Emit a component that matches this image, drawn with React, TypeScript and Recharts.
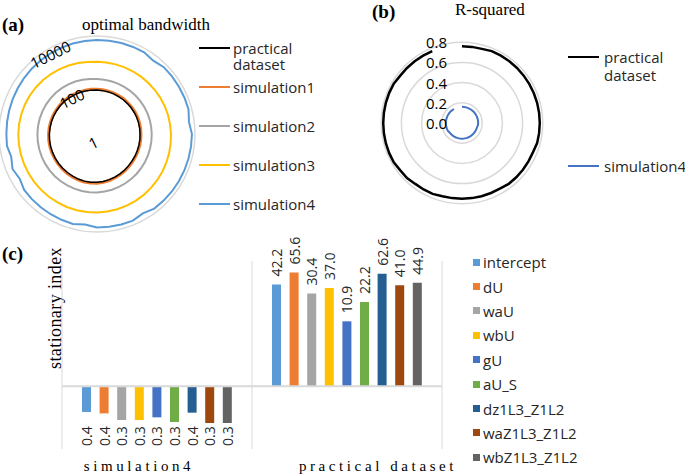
import React from "react";
import {
  Bar,
  BarChart,
  CartesianGrid,
  LabelList,
  Legend,
  PolarAngleAxis,
  PolarGrid,
  PolarRadiusAxis,
  Radar,
  RadarChart,
  ReferenceLine,
  XAxis,
  YAxis,
} from "recharts";

const SANS = '"Open Sans", "Noto Sans", sans-serif';
const SERIF = '"Liberation Serif", "DejaVu Serif", serif';
const GRID = "#d9d9d9";
const INK = "#262626";

// (a) optimal bandwidth, 48 directions clockwise from the top
const bwPractical = [
  62, 61, 60, 59, 58, 58, 57, 57, 57, 57, 57, 57,
  57, 58, 59, 60, 62, 64, 67, 71, 75, 80, 85, 90,
  94, 97, 98, 98, 97, 96, 95, 94, 93, 92, 91, 90,
  88, 86, 84, 82, 80, 78, 76, 73, 70, 68, 66, 64,
];
const bwSim1 = [
  67, 66, 65, 64, 63, 63, 62, 62, 62, 62, 62, 62,
  62, 63, 64, 65, 67, 69, 72, 77, 81, 86, 92, 97,
  102, 105, 106, 106, 105, 104, 103, 102, 100, 99, 98, 97,
  95, 93, 91, 89, 86, 84, 82, 79, 76, 73, 71, 69,
];
const bwSim2 = [
  175, 172, 170, 168, 167, 166, 166, 166, 167, 168, 169, 170,
  171, 173, 176, 180, 185, 190, 196, 203, 210, 218, 226, 234,
  242, 249, 255, 260, 265, 269, 272, 274, 275, 275, 274, 273,
  271, 268, 264, 259, 253, 246, 238, 229, 219, 208, 196, 185,
];
const bwSim3 = [
  890, 880, 875, 875, 880, 890, 905, 925, 950, 975, 1000, 1020,
  1045, 1075, 1110, 1150, 1195, 1245, 1300, 1355, 1410, 1460, 1510, 1560,
  1600, 1630, 1655, 1670, 1680, 1685, 1685, 1680, 1670, 1660, 1650, 1640,
  1630, 1600, 1560, 1510, 1450, 1380, 1300, 1220, 1140, 1060, 990, 930,
];
const bwSim4 = [
  6870, 6920, 6970, 7020, 7080, 5900, 7180, 7230, 7280, 7330, 7380, 6100,
  7500, 7450, 7370, 7280, 7190, 7100, 7000, 6900, 5500, 6750, 6680, 6600,
  6500, 5300, 6300, 6180, 6050, 5900, 5750, 5600, 4400, 5400, 4200, 5100,
  5000, 5050, 5150, 5300, 5450, 5650, 5850, 6050, 6250, 6450, 6620, 6760,
];
const bwTicks = [1, 100, 10000];

const bwSeries = [
  { key: "practical", name: "practical dataset", color: "#000000", width: 1.5, values: bwPractical },
  { key: "sim1", name: "simulation1", color: "#ED7D31", width: 3, values: bwSim1 },
  { key: "sim2", name: "simulation2", color: "#A5A5A5", width: 2, values: bwSim2 },
  { key: "sim3", name: "simulation3", color: "#FFC000", width: 2, values: bwSim3 },
  { key: "sim4", name: "simulation4", color: "#5B9BD5", width: 2, values: bwSim4 },
];

// (b) R-squared, same directions; the gaps at the top are missing values
const r2Practical = [
  0.76, 0.76, 0.76, 0.77, 0.77, 0.77, 0.77, 0.77, 0.77, 0.77, 0.77, 0.77,
  0.77, 0.77, 0.77, 0.76, 0.76, 0.76, 0.76, 0.76, 0.75, 0.75, 0.75, 0.75,
  0.75, 0.75, 0.75, 0.76, 0.76, 0.76, 0.77, 0.77, 0.78, 0.78, 0.78, 0.78,
  0.78, 0.78, 0.78, 0.78, 0.78, 0.77, 0.77, 0.77, 0.77, 0.77, null, null,
];
const r2Sim4 = [
  0.16, 0.16, 0.16, 0.16, 0.16, 0.16, 0.16, 0.16, 0.16, 0.16, 0.16, 0.16,
  0.16, 0.16, 0.155, 0.155, 0.155, 0.155, 0.155, 0.155, 0.155, 0.155, 0.155, 0.155,
  0.155, 0.155, 0.155, 0.155, 0.155, 0.155, 0.155, 0.155, 0.16, 0.16, 0.16, 0.16,
  0.16, 0.16, 0.16, 0.16, 0.16, 0.16, 0.16, 0.16, 0.16, null, null, null,
];
const r2Ticks = [0, 0.2, 0.4, 0.6, 0.8];

const r2Series = [
  { key: "practical", name: "practical dataset", color: "#000000", width: 2.5, values: r2Practical },
  { key: "sim4", name: "simulation4", color: "#4472C4", width: 2, values: r2Sim4 },
];

// (c) stationary index
const groups = ["simulation4", "practical dataset"];
const variables = [
  "intercept", "dU", "waU", "wbU", "gU", "aU_S", "dz1L3_Z1L2", "waZ1L3_Z1L2", "wbZ1L3_Z1L2",
];
const varColors = [
  "#5B9BD5", "#ED7D31", "#A5A5A5", "#FFC000", "#4472C4", "#70AD47", "#255E91", "#9E480E", "#636363",
];
const siSim4 = [0.39, 0.37, 0.29, 0.29, 0.32, 0.27, 0.38, 0.26, 0.26];
const siPractical = [42.2, 65.6, 30.4, 37.0, 10.9, 22.2, 62.6, 41.0, 44.9];

const toRows = (series: { key: string; values: (number | null)[] }[]) =>
  series[0].values.map((_, i) => {
    const row: Record<string, any> = { dir: String(i) };
    series.forEach((s) => (row[s.key] = s.values[i]));
    return row;
  });

const bwRows = toRows(bwSeries);
const r2Rows = toRows(r2Series);
const siRows = groups.map((g, gi) => {
  const vals = gi === 0 ? siSim4 : siPractical;
  const row: Record<string, any> = { group: g };
  variables.forEach((v, vi) => (row[v] = vals[vi]));
  return row;
});

const BW_AXIS_ANGLE = 116;
const GROUP_SHIFT = [-18, 31];

function Txt({ x, y, size, bold, serif, children }: any) {
  return (
    <div
      style={{
        position: "absolute",
        left: x,
        top: y,
        fontFamily: serif ? SERIF : SANS,
        fontSize: size,
        fontWeight: bold ? 700 : 400,
        lineHeight: 1,
        whiteSpace: "nowrap",
        color: "#000",
      }}
    >
      {children}
    </div>
  );
}

const lineLegend = (series: any[], rowH: number, lineH: number, gap: number) => () => (
  <div>
    {series.map((s) => (
      <div key={s.key} style={{ display: "flex", alignItems: "flex-start", height: rowH }}>
        <div style={{ width: 31, height: 2, background: s.color, marginTop: lineH / 2 - 1, marginRight: gap }} />
        <div style={{ width: 80, fontFamily: SANS, fontSize: 15, lineHeight: `${lineH}px`, color: INK }}>
          {s.name}
        </div>
      </div>
    ))}
  </div>
);

// ring through the radar's own points, left open where a value is missing
const openRing = (s: any) => (p: any) => {
  const pts = (p.points || []).filter((pt: any) => pt.payload && pt.payload[s.key] != null);
  const d = pts.map((pt: any, i: number) => `${i ? "L" : "M"}${pt.x},${pt.y}`).join("");
  return <path d={d} fill="none" stroke={s.color} strokeWidth={s.width} />;
};

const BwTick = (p: any) => (
  <text
    x={p.x}
    y={p.y}
    dx={-7}
    dy={6}
    transform={`rotate(${90 - BW_AXIS_ANGLE}, ${p.x}, ${p.y})`}
    textAnchor="middle"
    dominantBaseline="central"
    fontFamily={SANS}
    fontSize={15}
    fill="#000"
  >
    {p.payload.value}
  </text>
);

const R2Tick = (p: any) => (
  <text x={p.x - 15} y={p.y} textAnchor="end" dominantBaseline="central" fontFamily={SANS} fontSize={15} fill="#000">
    {Number(p.payload.value).toFixed(1)}
  </text>
);

const GroupTick = (p: any) => (
  <text
    x={p.x + GROUP_SHIFT[p.index]}
    y={p.y}
    dy={14}
    textAnchor="middle"
    fontFamily={SERIF}
    fontSize={15}
    letterSpacing={3.6}
    fill="#000"
  >
    {p.payload.value}
  </text>
);

const SiLabel = (p: any) => {
  const vb = p.viewBox ?? p;
  const x = vb.x + vb.width / 2;
  const top = Math.min(vb.y, vb.y + vb.height);
  const v = Number(p.value);
  const up = v >= 1;
  const ty = up ? top - 8 : top + 40;
  return (
    <text
      x={x}
      y={ty}
      transform={`rotate(-90, ${x}, ${ty})`}
      textAnchor={up ? "start" : "end"}
      dominantBaseline="central"
      fontFamily={SANS}
      fontSize={14}
      fill={INK}
    >
      {v.toFixed(1)}
    </text>
  );
};

const SiAxisLabel = (p: any) => {
  const vb = p.viewBox;
  const x = 55;
  const y = vb.y + 47;
  return (
    <text
      x={x}
      y={y}
      transform={`rotate(-90, ${x}, ${y})`}
      textAnchor="middle"
      dominantBaseline="central"
      fontFamily={SERIF}
      fontSize={18}
      letterSpacing={0.4}
      fill="#000"
    >
      stationary index
    </text>
  );
};

const siLegend = () => (
  <div>
    {variables.map((v, i) => (
      <div key={v} style={{ height: 24.4, display: "flex", alignItems: "center" }}>
        <span style={{ width: 7, height: 7, background: varColors[i], marginRight: 3 }} />
        <span style={{ fontFamily: SANS, fontSize: 15, color: INK }}>{v}</span>
      </div>
    ))}
  </div>
);

export default function App() {
  // orange under black so the black ring stays on top
  const bwDrawOrder = [bwSeries[4], bwSeries[3], bwSeries[2], bwSeries[1], bwSeries[0]];
  return (
    <div style={{ position: "absolute", left: 0, top: 0, width: 685, height: 475, background: "#fff", overflow: "hidden" }}>
      <div style={{ position: "absolute", left: 0, top: 0 }}>
        <RadarChart width={340} height={240} data={bwRows} cx={97} cy={134} outerRadius={98} margin={{ top: 0, right: 0, bottom: 0, left: 0 }}>
          <PolarGrid gridType="circle" radialLines={false} polarRadius={[98]} stroke={GRID} strokeWidth={1.5} />
          <PolarAngleAxis dataKey="dir" tick={false} axisLine={false} tickLine={false} />
          {bwDrawOrder.map((s) => (
            <Radar
              key={s.key}
              dataKey={s.key}
              name={s.name}
              stroke={s.color}
              strokeWidth={s.width}
              fill="none"
              fillOpacity={0}
              dot={false}
              isAnimationActive={false}
            />
          ))}
          <PolarRadiusAxis
            scale="log"
            domain={[1, 10000]}
            ticks={bwTicks}
            angle={BW_AXIS_ANGLE}
            axisLine={false}
            tickLine={false}
            tick={BwTick}
          />
          <Legend
            layout="vertical"
            align="center"
            verticalAlign="middle"
            wrapperStyle={{ left: 199, top: 40 }}
            content={lineLegend(bwSeries, 39, 16, 3)}
          />
        </RadarChart>
      </div>

      <div style={{ position: "absolute", left: 340, top: 0 }}>
        <RadarChart width={345} height={240} data={r2Rows} cx={122} cy={123} outerRadius={101} margin={{ top: 0, right: 0, bottom: 0, left: 0 }}>
          <PolarGrid gridType="circle" radialLines={false} stroke={GRID} strokeWidth={1.5} />
          <PolarAngleAxis dataKey="dir" tick={false} axisLine={false} tickLine={false} />
          {r2Series.map((s) => (
            <Radar
              key={s.key}
              dataKey={s.key}
              name={s.name}
              stroke={s.color}
              strokeWidth={s.width}
              fill="none"
              dot={false}
              shape={openRing(s)}
              isAnimationActive={false}
            />
          ))}
          <PolarRadiusAxis
            domain={[0, 0.8]}
            ticks={r2Ticks}
            angle={90}
            axisLine={false}
            tickLine={false}
            tick={R2Tick}
          />
          <Legend
            layout="vertical"
            align="center"
            verticalAlign="middle"
            wrapperStyle={{ left: 228, top: 48 }}
            content={lineLegend(r2Series, 109, 18, 5)}
          />
        </RadarChart>
      </div>

      <div style={{ position: "absolute", left: 0, top: 225 }}>
        <BarChart
          width={685}
          height={250}
          data={siRows}
          margin={{ top: 36, right: 243, bottom: 1, left: 0 }}
          barGap={8.6}
        >
          <CartesianGrid
            horizontal={false}
            stroke={GRID}
            verticalCoordinatesGenerator={({ offset }: any) => [
              offset.left,
              offset.left + offset.width / 2,
              offset.left + offset.width,
            ]}
          />
          <XAxis dataKey="group" interval={0} axisLine={false} tickLine={false} height={25} tick={GroupTick} />
          <YAxis
            scale="log"
            domain={[0.1, 100]}
            allowDataOverflow
            width={62}
            tick={false}
            axisLine={false}
            tickLine={false}
            label={{ value: "stationary index", content: SiAxisLabel }}
          />
          <ReferenceLine y={1} stroke={GRID} strokeWidth={2} />
          {variables.map((v, i) => (
            <Bar
              key={v}
              name={v}
              dataKey={(row: any) => [1, row[v]]}
              fill={varColors[i]}
              barSize={9}
              isAnimationActive={false}
            >
              <LabelList dataKey={v} content={SiLabel} />
            </Bar>
          ))}
          <Legend
            layout="vertical"
            align="center"
            verticalAlign="middle"
            wrapperStyle={{ left: 473, top: 25 }}
            content={siLegend}
          />
        </BarChart>
      </div>

      <Txt x={2} y={15} size={19} bold serif>(a)</Txt>
      <Txt x={82} y={16} size={17} serif>optimal bandwidth</Txt>
      <Txt x={372} y={2} size={19} bold serif>(b)</Txt>
      <Txt x={455} y={1} size={17} serif>R-squared</Txt>
      <Txt x={2} y={244} size={19} bold serif>(c)</Txt>
    </div>
  );
}
